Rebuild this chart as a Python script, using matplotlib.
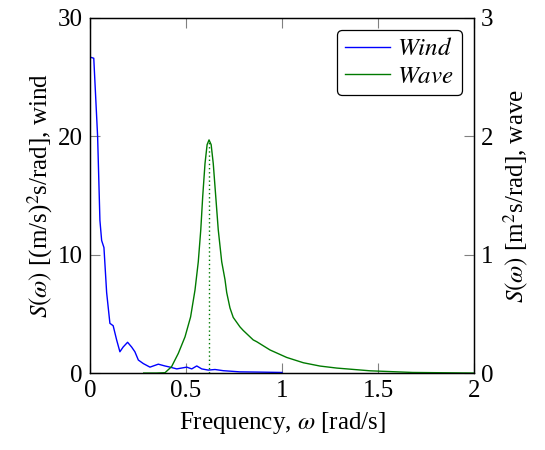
import numpy as np
import matplotlib.pyplot as plt

plt.rcParams['font.family'] = ['Liberation Serif', 'DejaVu Serif']
plt.rcParams['mathtext.fontset'] = 'stix'

# wind spectrum, left axis
wind_w = [0, 0.02, 0.04, 0.052, 0.061, 0.073, 0.087, 0.104, 0.121, 0.139, 0.156,
          0.173, 0.196, 0.217, 0.234, 0.252, 0.278, 0.3125, 0.356, 0.39, 0.417,
          0.452, 0.504, 0.53, 0.556, 0.582, 0.616, 0.651, 0.694, 0.781, 0.88, 1.0]
wind_s = [26.7, 26.6, 20.0, 12.9, 11.2, 10.6, 6.8, 4.2, 4.0, 2.8, 1.8,
          2.2, 2.6, 2.2, 1.8, 1.1, 0.8, 0.5, 0.75, 0.6, 0.5,
          0.35, 0.5, 0.35, 0.6, 0.35, 0.25, 0.3, 0.2, 0.1, 0.08, 0.05]

# wave spectrum, right axis
wave_w = [0.28, 0.347, 0.391, 0.425, 0.46, 0.495, 0.524, 0.547, 0.564, 0.577, 0.587,
          0.599, 0.61, 0.62, 0.631, 0.642, 0.655, 0.668, 0.686, 0.703, 0.712,
          0.729, 0.746, 0.781, 0.798, 0.85, 0.868, 0.9375, 1.024, 1.111, 1.198,
          1.285, 1.458, 1.68, 2.0]
wave_s = [0.0, 0.0, 0.003, 0.054, 0.166, 0.306, 0.474, 0.702, 0.94, 1.21, 1.49,
          1.77, 1.93, 1.97, 1.93, 1.77, 1.49, 1.21, 0.94, 0.79, 0.68,
          0.55, 0.47, 0.39, 0.36, 0.28, 0.265, 0.195, 0.132, 0.087, 0.059,
          0.042, 0.019, 0.005, 0.0]
peak_w = 0.62
peak_s = 1.97

blue = '#0000ff'
green = '#007a00'

fig = plt.figure(figsize=(5.45, 4.5), dpi=100)
ax = fig.add_axes([0.165, 0.171, 0.705, 0.789])
ax2 = ax.twinx()

l1, = ax.plot(wind_w, wind_s, color=blue, lw=1.0, label='$Wind$')
l2, = ax2.plot(wave_w, wave_s, color=green, lw=1.0, label='$Wave$')
ax2.plot([peak_w, peak_w], [0, peak_s], color=green, lw=1.0, ls=(0, (1, 2)))

ax.set_xlim(0, 2)
ax.set_ylim(0, 30)
ax2.set_ylim(0, 3)
ax.set_xticks([0, 0.5, 1, 1.5, 2])
ax.set_xticklabels(['0', '0.5', '1', '1.5', '2'])
ax.set_yticks([0, 10, 20, 30])
ax2.set_yticks([0, 1, 2, 3])

for a in (ax, ax2):
    a.tick_params(direction='in', length=7.5, width=0.8, color='#808080',
                  labelsize=18, pad=5)
    for s in a.spines.values():
        s.set_linewidth(0.9)
ax.tick_params(top=True)

ax.set_xlabel(r'Frequency, $\omega$ [rad/s]', fontsize=18, labelpad=6)
ax.set_ylabel(r'$S(\omega)$ [(m/s)$^2$s/rad], wind', fontsize=18, labelpad=2)
ax2.set_ylabel(r'$S(\omega)$ [m$^2$s/rad], wave', fontsize=18, labelpad=6)

leg = ax2.legend(handles=[l1, l2], loc='upper right', fontsize=18,
                 frameon=True, fancybox=True, edgecolor='black',
                 handlelength=1.8, handletextpad=0.3, borderaxespad=0.5,
                 borderpad=0.3, labelspacing=0.2, framealpha=1)
leg.get_frame().set_linewidth(0.9)

fig.savefig('out.png', dpi=100)
